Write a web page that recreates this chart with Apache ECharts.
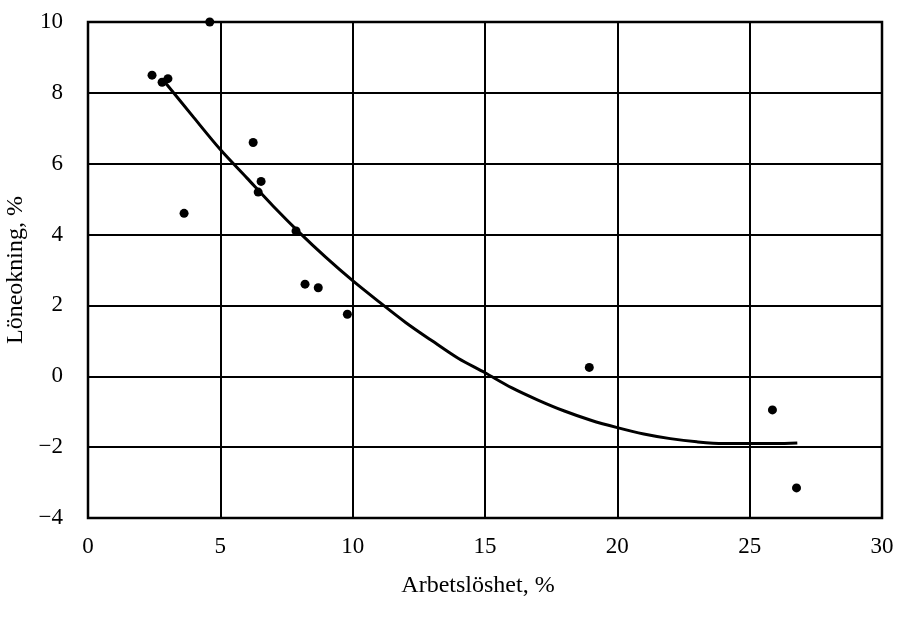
<!DOCTYPE html>
<html><head><meta charset="utf-8">
<script src="https://cdn.jsdelivr.net/npm/echarts@6/dist/echarts.min.js"></script>
<style>html,body{margin:0;padding:0;background:#fff}#c{width:901px;height:618px}</style>
</head><body><div id="c"></div>
<script>
const pointsX = [2.42, 2.8, 3.02, 3.63, 4.6, 6.24, 6.43, 6.54, 7.86, 8.2, 8.7, 9.8, 18.94, 25.86, 26.77];
const pointsY = [8.5, 8.3, 8.4, 4.6, 10.0, 6.6, 5.2, 5.5, 4.1, 2.6, 2.5, 1.75, 0.25, -0.95, -3.15];
const curveX = [2.8, 4, 5, 6, 7, 8, 9, 10, 11, 12, 13, 14, 15, 16, 17, 18, 19, 20, 21, 22, 23, 24, 25, 26, 26.8];
const curveY = [8.4, 7.3, 6.4, 5.6, 4.8, 4.05, 3.35, 2.7, 2.1, 1.52, 1.0, 0.5, 0.1, -0.32, -0.67, -0.98, -1.24, -1.45, -1.63, -1.76, -1.85, -1.9, -1.9, -1.9, -1.88];
const xTicks = [0, 5, 10, 15, 20, 25, 30];
const yTicks = [-4, -2, 0, 2, 4, 6, 8, 10];
const xName = 'Arbetslöshet, %';
const yName = 'Löneokning, %';

const chart = echarts.init(document.getElementById('c'));
const font = 'Liberation Serif';
chart.setOption({
  animation: false,
  backgroundColor: '#fff',
  grid: { left: 88, right: 19, top: 22, bottom: 100, show: true, borderColor: '#000', borderWidth: 2.5,
          outerBoundsMode: 'none', containLabel: false },
  xAxis: {
    type: 'value', min: 0, max: 30, interval: 5,
    name: xName, nameLocation: 'middle', nameGap: 56,
    nameTextStyle: { fontFamily: font, fontSize: 24, color: '#000', padding: [0, 14, 0, 0] },
    axisLine: { show: false }, axisTick: { show: false },
    axisLabel: { fontFamily: font, fontSize: 23, color: '#000', margin: 17 },
    splitLine: { show: true, lineStyle: { color: '#000', width: 2 } }
  },
  yAxis: {
    type: 'value', min: -4, max: 10, interval: 2,
    name: yName, nameLocation: 'middle', nameGap: 56, nameRotate: 90,
    nameTextStyle: { fontFamily: font, fontSize: 24, color: '#000' },
    axisLine: { show: false }, axisTick: { show: false },
    axisLabel: { fontFamily: font, fontSize: 23, color: '#000', margin: 25,
      padding: [0, 0, 12, 0],
      formatter: v => String(v).replace('-', '\u2212') },
    splitLine: { show: true, lineStyle: { color: '#000', width: 2 } }
  },
  series: [
    { type: 'line', data: curveX.map((x, i) => [x, curveY[i]]), smooth: 0.3, symbol: 'none',
      lineStyle: { color: '#000', width: 3 }, z: 3 },
    { type: 'scatter', data: pointsX.map((x, i) => [x, pointsY[i]]), symbolSize: 9,
      itemStyle: { color: '#000', opacity: 1 }, z: 4 }
  ]
});
</script></body></html>
